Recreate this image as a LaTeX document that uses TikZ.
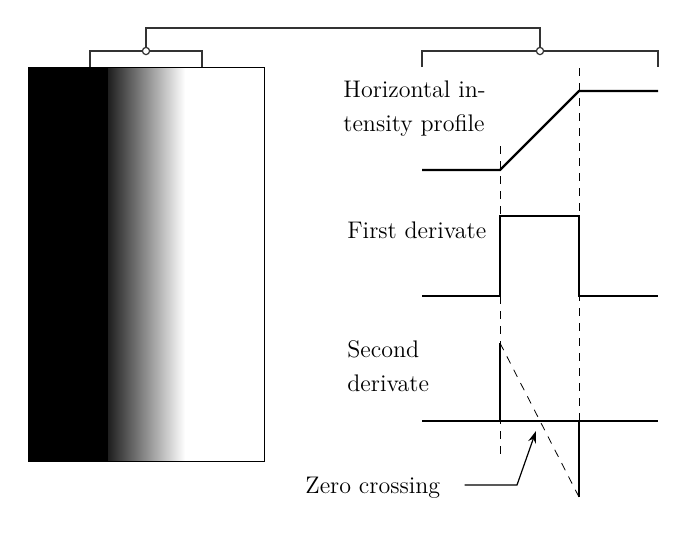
\documentclass[tikz,border=0pt]{standalone}
\usepackage{tikz}
\usetikzlibrary{positioning, arrows.meta}

\tikzset{
  profile/.style={line width=1.1pt},
  guide/.style={thin, dash pattern=on 4pt off 3.5pt},
  brace/.style={semithick, black!80},
  joint/.style={circle, draw=black!80, semithick, fill=white, inner sep=0pt, minimum size=3.6pt},
  lbl/.style={font=\large, inner sep=0pt, anchor=base west, align=left}
}

\begin{document}
\begin{tikzpicture}[x=0.5pt, y=-0.5pt]
    \useasboundingbox (0,0) rectangle (687,532);

    % Image with the edge
    \fill[black] (28,67) rectangle (108,461);
    \shade[left color=black!88, right color=white] (108,67) rectangle (185,461);
    \draw[thin] (28,67) rectangle (264,461);

    % Brackets on top
    \node[joint] (jl) at (146,51) {};
    \node[joint] (jr) at (540,51) {};
    \draw[brace] (90,67) -- (90,51) -- (jl) -- (202,51) -- (202,67);
    \draw[brace] (422,67) -- (422,51) -- (jr) -- (658,51) -- (658,67);
    \draw[brace] (jl) -- (146,28) -- (540,28) -- (jr);

    % Labels (base = last line)
    \node[lbl] (hip) at (343,131) {Horizontal in-\\[3pt]tensity profile};
    \node[lbl] (fd) at (347,238) {First derivate};
    \node[lbl] (sd) at (347,391) {Second\\[3pt]derivate};
    \node[lbl] (zc) at (305,493) {Zero crossing};

    % Edge positions
    \coordinate (e1) at (500,146);
    \coordinate (e1b) at (500,455);
    \coordinate (e2) at (579,68);
    \coordinate (e2b) at (579,421);
    \draw[guide] (e1) -- (e1b);
    \draw[guide] (e2) -- (e2b);

    % Intensity profile
    \draw[profile] (422,170) -- (500,170) -- (579,91) -- (658,91);

    % First derivate
    \draw[profile] (422,296) -- (500,296) -- (500,216) -- (579,216) -- (579,296) -- (658,296);

    % Second derivate
    \coordinate (up) at (500,343);
    \coordinate (dn) at (579,497);
    \draw[profile] (422,421) -- (658,421);
    \draw[profile] (500,421) -- (up);
    \draw[profile] (579,421) -- (dn);
    \draw[guide] (up) -- (dn);

    % Zero crossing pointer
    \coordinate (zp) at (536,431);
    \draw[semithick, -{Stealth[length=6pt, width=4pt]}] ([xshift=12pt]zc.east |- 0,485) -- (517,485) -- (zp);
  \end{tikzpicture}
\end{document}
